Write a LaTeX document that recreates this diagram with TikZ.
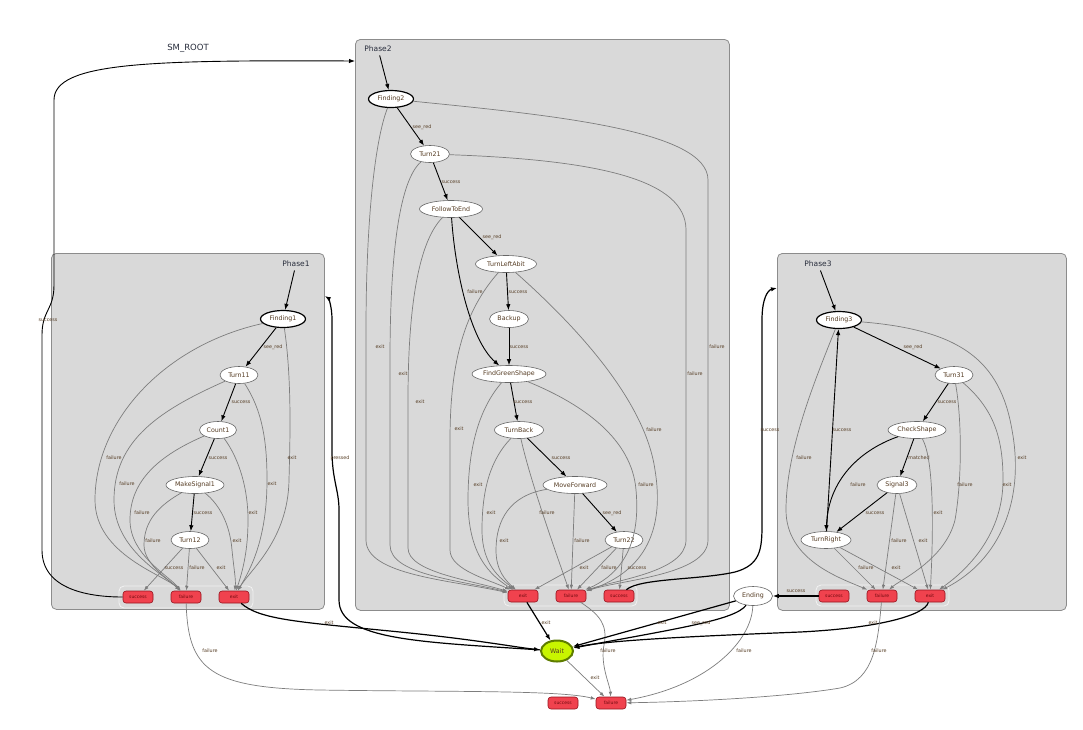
\documentclass[tikz,border=0pt]{standalone}
\usepackage{fontspec}
\setmainfont{DejaVu Sans}
\usetikzlibrary{shapes.geometric,arrows.meta}

\definecolor{clusterfill}{RGB}{217,217,217}
\definecolor{clusterline}{RGB}{140,140,140}
\definecolor{groupline}{RGB}{242,242,242}
\definecolor{outfill}{RGB}{240,66,78}
\definecolor{outborder}{RGB}{150,20,30}
\definecolor{outtext}{RGB}{110,10,15}
\definecolor{waitfill}{RGB}{200,245,0}
\definecolor{waitline}{RGB}{95,125,0}
\definecolor{edgegray}{RGB}{125,125,125}
\definecolor{labeltext}{RGB}{85,60,35}
\definecolor{titletext}{RGB}{40,45,60}

\tikzset{
  cluster/.style={draw=clusterline, fill=clusterfill, rounded corners=5pt, line width=0.8pt, anchor=north west, inner sep=0pt},
  outgroup/.style={draw=groupline, rounded corners=5pt, line width=0.8pt},
  title/.style={text=titletext, font=\fontsize{7.5}{8}\selectfont},
  state/.style={ellipse, draw=black!60, fill=white, line width=0.6pt, minimum height=17pt, inner sep=0pt, text=labeltext, font=\fontsize{6.3}{7}\selectfont},
  initstate/.style={state, draw=black, line width=1.2pt},
  waitstate/.style={state, draw=waitline, fill=waitfill, line width=2pt, minimum width=32pt, minimum height=21pt},
  outcome/.style={rounded corners=3pt, draw=outborder, fill=outfill, line width=0.6pt, minimum width=30pt, minimum height=12pt, inner sep=0pt, text=outtext, font=\fontsize{4.5}{5}\selectfont},
  trans/.style={draw=black, line width=0.9pt, -{Latex[length=6pt,width=4.5pt]}},
  roottrans/.style={trans, line width=1.2pt},
  gtrans/.style={draw=edgegray, line width=0.7pt, -{Latex[length=5pt,width=3.5pt]}},
  lbl/.style={inner sep=0.5pt, text=labeltext, font=\fontsize{4.8}{5}\selectfont},
}

\begin{document}
\begin{tikzpicture}[x=1pt,y=1pt]
\useasboundingbox (0,0) rectangle (1083,-729);
\fill[white] (0,0) rectangle (1083,-729);

% containers
\node[cluster, minimum width=273, minimum height=356] (ph1) at (51,-253) {};
\node[cluster, minimum width=374, minimum height=571] (ph2) at (355,-39) {};
\node[cluster, minimum width=289, minimum height=357] (ph3) at (777,-253) {};
\draw[outgroup] (119,-586) rectangle (253,-608);
\draw[outgroup] (504,-585) rectangle (637,-606);
\draw[outgroup] (816,-585) rectangle (949,-606);

\node[font=\fontsize{8.5}{9}\selectfont, text=titletext] (root) at (188,-48) {SM\_ROOT};
\node[title] (ph1lbl) at (296,-264) {Phase1};
\node[title] (ph2lbl) at (378,-49) {Phase2};
\node[title] (ph3lbl) at (818,-264) {Phase3};

% Phase1
\node[initstate, minimum width=45] (F1) at (283,-319) {Finding1};
\node[state, minimum width=38] (T11) at (239,-375) {Turn11};
\node[state, minimum width=37] (C1) at (218,-430) {Count1};
\node[state, minimum width=58] (MS1) at (195,-485) {MakeSignal1};
\node[state, minimum width=38] (T12) at (190,-540) {Turn12};
\node[outcome] (P1s) at (138,-597) {success};
\node[outcome] (P1f) at (186,-597) {failure};
\node[outcome] (P1e) at (234,-597) {exit};

% Phase2
\node[initstate, minimum width=45] (F2) at (391,-99) {Finding2};
\node[state, minimum width=39] (T21) at (430,-154) {Turn21};
\node[state, minimum width=63] (FTE) at (451,-209) {FollowToEnd};
\node[state, minimum width=61] (TLA) at (506,-264) {TurnLeftAbit};
\node[state, minimum width=39] (BU) at (509,-319) {Backup};
\node[state, minimum width=74] (FGS) at (509,-374) {FindGreenShape};
\node[state, minimum width=49] (TB) at (519,-430) {TurnBack};
\node[state, minimum width=64] (MF) at (575,-485) {MoveForward};
\node[state, minimum width=38] (T22) at (624,-540) {Turn22};
\node[outcome] (P2e) at (523,-596) {exit};
\node[outcome] (P2f) at (571,-596) {failure};
\node[outcome] (P2s) at (619,-596) {success};

% Phase3
\node[initstate, minimum width=45] (F3) at (839,-320) {Finding3};
\node[state, minimum width=38] (T31) at (954,-375) {Turn31};
\node[state, minimum width=58] (CS) at (917,-430) {CheckShape};
\node[state, minimum width=40] (S3) at (897,-485) {Signal3};
\node[state, minimum width=50] (TR) at (826,-540) {TurnRight};
\node[outcome] (P3s) at (834,-596) {success};
\node[outcome] (P3f) at (882,-596) {failure};
\node[outcome] (P3e) at (930,-596) {exit};

% root states
\node[state, minimum width=39, minimum height=19] (End) at (753,-596) {Ending};
\node[waitstate] (Wait) at (557,-651) {Wait};
\node[outcome] (Rs) at (563,-703) {success};
\node[outcome] (Rf) at (611,-703) {failure};

% Phase1 transitions
\draw[trans] (ph1lbl) -- (F1);
\draw[trans] (F1) -- (T11) node[lbl] at (273,-347) {see\_red};
\draw[trans] (T11) -- (C1) node[lbl] at (241,-402) {success};
\draw[trans] (C1) -- (MS1) node[lbl] at (218,-458) {success};
\draw[trans] (MS1) -- (T12) node[lbl] at (203,-513) {success};
\draw[gtrans] (F1) .. controls (165,-345) and (95,-420) .. (95,-500) .. controls (95,-555) and (165,-575) .. (P1f) node[lbl] at (114,-458) {failure};
\draw[gtrans] (F1) .. controls (292,-380) and (290,-440) .. (289,-480) .. controls (288,-540) and (250,-570) .. (P1e) node[lbl] at (292,-458) {exit};
\draw[gtrans] (T11) .. controls (160,-410) and (114,-440) .. (114,-500) .. controls (114,-550) and (165,-575) .. (P1f) node[lbl] at (127,-484) {failure};
\draw[gtrans] (T11) .. controls (262,-410) and (267,-440) .. (267,-480) .. controls (267,-540) and (250,-570) .. (P1e) node[lbl] at (272,-484) {exit};
\draw[gtrans] (C1) .. controls (160,-455) and (130,-480) .. (130,-520) .. controls (130,-555) and (168,-575) .. (P1f) node[lbl] at (142,-513) {failure};
\draw[gtrans] (C1) .. controls (240,-460) and (248,-490) .. (248,-520) .. controls (248,-550) and (243,-570) .. (P1e) node[lbl] at (253,-513) {exit};
\draw[gtrans] (MS1) .. controls (160,-505) and (144,-520) .. (144,-545) .. controls (144,-565) and (170,-580) .. (P1f) node[lbl] at (153,-541) {failure};
\draw[gtrans] (MS1) .. controls (220,-505) and (230,-525) .. (232,-550) .. controls (234,-570) and (236,-580) .. (P1e) node[lbl] at (237,-541) {exit};
\draw[gtrans] (T12) -- (P1s) node[lbl] at (174,-568) {success};
\draw[gtrans] (T12) -- (P1f) node[lbl] at (197,-568) {failure};
\draw[gtrans] (T12) -- (P1e) node[lbl] at (221,-568) {exit};

% Phase2 transitions
\draw[trans] (ph2lbl) -- (F2);
\draw[trans] (F2) -- (T21) node[lbl] at (422,-127) {see\_red};
\draw[trans] (T21) -- (FTE) node[lbl] at (451,-182) {success};
\draw[trans] (FTE) -- (TLA) node[lbl] at (492,-237) {see\_red};
\draw[trans] (FTE) .. controls (455,-270) and (470,-340) .. (FGS) node[lbl] at (475,-292) {failure};
\draw[trans] (TLA) -- (BU) node[lbl] at (518,-292) {success};
\draw[trans] (BU) -- (FGS) node[lbl] at (519,-347) {success};
\draw[trans] (FGS) -- (TB) node[lbl] at (523,-402) {success};
\draw[trans] (TB) -- (MF) node[lbl] at (561,-458) {success};
\draw[trans] (MF) -- (T22) node[lbl] at (612,-513) {see\_red};
\draw[gtrans] (F2) .. controls (375,-140) and (366,-220) .. (366,-330) -- (366,-540) .. controls (366,-575) and (450,-580) .. (P2e) node[lbl] at (380,-347) {exit};
\draw[gtrans] (T21) .. controls (400,-180) and (390,-250) .. (390,-360) -- (390,-545) .. controls (390,-575) and (460,-580) .. (P2e) node[lbl] at (403,-374) {exit};
\draw[gtrans] (FTE) .. controls (420,-240) and (408,-300) .. (408,-400) -- (408,-548) .. controls (408,-572) and (470,-580) .. (P2e) node[lbl] at (420,-402) {exit};
\draw[gtrans] (TLA) .. controls (465,-310) and (450,-360) .. (450,-440) -- (450,-550) .. controls (450,-570) and (490,-580) .. (P2e) node[lbl] at (459,-429) {exit};
\draw[gtrans] (FGS) .. controls (478,-410) and (468,-450) .. (468,-500) .. controls (468,-555) and (490,-575) .. (P2e) node[lbl] at (478,-485) {exit};
\draw[gtrans] (TB) .. controls (490,-460) and (482,-490) .. (482,-530) .. controls (482,-565) and (500,-578) .. (P2e) node[lbl] at (491,-513) {exit};
\draw[gtrans] (MF) .. controls (510,-495) and (496,-520) .. (496,-550) .. controls (496,-570) and (505,-580) .. (P2e) node[lbl] at (504,-541) {exit};
\draw[gtrans] (T22) -- (P2e) node[lbl] at (584,-568) {exit};
\draw[gtrans] (F2) .. controls (550,-115) and (708,-130) .. (708,-180) -- (708,-540) .. controls (708,-575) and (620,-580) .. (P2f) node[lbl] at (717,-347) {failure};
\draw[gtrans] (T21) .. controls (600,-160) and (686,-180) .. (686,-230) -- (686,-540) .. controls (686,-572) and (615,-580) .. (P2f) node[lbl] at (695,-374) {failure};
\draw[gtrans] (TLA) .. controls (575,-325) and (645,-400) .. (655,-470) .. controls (668,-550) and (625,-578) .. (P2f) node[lbl] at (654,-430) {failure};
\draw[gtrans] (FGS) .. controls (585,-405) and (632,-440) .. (636,-490) .. controls (642,-555) and (612,-578) .. (P2f) node[lbl] at (646,-485) {failure};
\draw[gtrans] (TB) .. controls (530,-480) and (555,-550) .. (P2f) node[lbl] at (547,-513) {failure};
\draw[gtrans] (MF) -- (P2f) node[lbl] at (582,-541) {failure};
\draw[gtrans] (T22) -- (P2f) node[lbl] at (609,-568) {failure};
\draw[gtrans] (T22) -- (P2s) node[lbl] at (637,-568) {success};

% Phase3 transitions
\draw[trans] (ph3lbl) -- (F3);
\draw[trans] (F3) -- (T31) node[lbl] at (913,-347) {see\_red};
\draw[trans] (T31) -- (CS) node[lbl] at (947,-402) {success};
\draw[trans] (CS) -- (S3) node[lbl] at (919,-458) {matched};
\draw[trans] (CS) .. controls (860,-450) and (828,-480) .. (TR) node[lbl] at (858,-485) {failure};
\draw[trans] (S3) -- (TR) node[lbl] at (875,-513) {success};
\draw[trans] (TR) -- (F3) node[lbl] at (842,-430) {success};
\draw[gtrans] (F3) .. controls (815,-380) and (786,-450) .. (786,-510) .. controls (786,-560) and (840,-578) .. (P3f) node[lbl] at (804,-458) {failure};
\draw[gtrans] (F3) .. controls (960,-330) and (1000,-360) .. (1012,-430) .. controls (1025,-500) and (1000,-560) .. (P3e) node[lbl] at (1022,-458) {exit};
\draw[gtrans] (T31) .. controls (962,-420) and (962,-480) .. (955,-520) .. controls (945,-560) and (900,-580) .. (P3f) node[lbl] at (965,-485) {failure};
\draw[gtrans] (T31) .. controls (995,-410) and (1003,-440) .. (1003,-480) .. controls (1003,-540) and (960,-575) .. (P3e) node[lbl] at (1007,-485) {exit};
\draw[gtrans] (CS) .. controls (935,-460) and (933,-540) .. (P3e) node[lbl] at (938,-513) {exit};
\draw[gtrans] (S3) -- (P3f) node[lbl] at (899,-541) {failure};
\draw[gtrans] (S3) -- (P3e) node[lbl] at (923,-541) {exit};
\draw[gtrans] (TR) -- (P3f) node[lbl] at (866,-568) {failure};
\draw[gtrans] (TR) -- (P3e) node[lbl] at (896,-568) {exit};

% SM_ROOT transitions
\draw[trans] (P1s) .. controls (90,-597) and (42,-590) .. (42,-550) -- (42,-335) .. controls (42,-310) and (54,-310) .. (54,-285) -- (54,-100) .. controls (54,-62) and (150,-60) .. ([yshift=-22pt]ph2.north west) node[lbl] at (48,-320) {success};
\draw[roottrans] (P1e) .. controls (260,-620) and (300,-622) .. (400,-632) .. controls (480,-640) and (520,-648) .. (Wait) node[lbl] at (329,-623) {exit};
\draw[roottrans] (Wait) .. controls (420,-642) and (339,-640) .. (339,-600) -- (339,-510) .. controls (339,-490) and (332,-480) .. (332,-450) -- (332,-320) .. controls (332,-305) and (328,-298) .. ([yshift=-43pt]ph1.north east) node[lbl] at (340,-458) {pressed};
\draw[roottrans] (P2e) -- (Wait) node[lbl] at (546,-623) {exit};
\draw[roottrans] (P2s) .. controls (640,-578) and (700,-580) .. (735,-572) .. controls (760,-565) and (762,-550) .. (762,-525) -- (762,-320) .. controls (762,-298) and (768,-290) .. ([yshift=-35pt]ph3.north west) node[lbl] at (770,-430) {success};
\draw[gtrans] (P2f) .. controls (600,-615) and (608,-625) .. (604,-645) .. controls (600,-665) and (610,-685) .. (Rf) node[lbl] at (608,-651) {failure};
\draw[gtrans] (Wait) -- (Rf) node[lbl] at (595,-678) {exit};
\draw[gtrans] (P1f) .. controls (188,-670) and (210,-688) .. (320,-690) .. controls (450,-692) and (560,-690) .. (Rf) node[lbl] at (210,-651) {failure};
\draw[roottrans] (End) -- (Wait) node[lbl] at (662,-623) {exit};
\draw[roottrans] (End) .. controls (735,-620) and (680,-628) .. (Wait) node[lbl] at (701,-623) {see\_red};
\draw[gtrans] (End) .. controls (752,-640) and (710,-685) .. (Rf) node[lbl] at (744,-651) {failure};
\draw[roottrans] (P3s) -- (End) node[lbl] at (796,-591) {success};
\draw[roottrans] (P3e) .. controls (925,-615) and (880,-628) .. (800,-632) .. controls (700,-636) and (610,-640) .. (Wait) node[lbl] at (873,-623) {exit};
\draw[gtrans] (P3f) .. controls (878,-640) and (875,-680) .. (840,-688) .. controls (780,-698) and (680,-702) .. (Rf) node[lbl] at (879,-651) {failure};
\end{tikzpicture}
\end{document}
